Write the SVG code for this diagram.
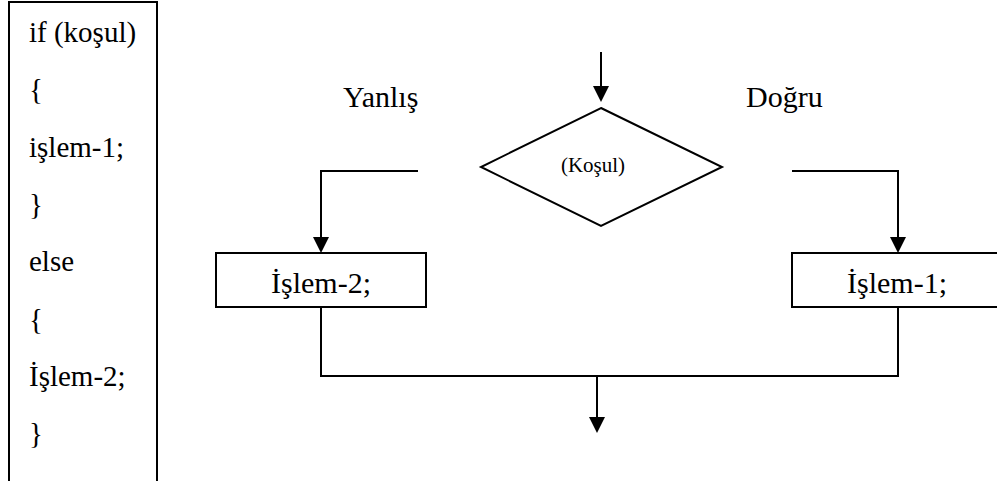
<svg xmlns="http://www.w3.org/2000/svg" width="997" height="481" viewBox="0 0 997 481">
<defs>
<style>
text{font-family:'Liberation Serif','Times New Roman','DejaVu Serif',serif;fill:#000}
.code{font-size:29px}
.lbl{font-size:30px}
.sm{font-size:21px}
.ln{fill:none;stroke:#000;stroke-width:2}
</style>
<marker id="ah" viewBox="0 0 16 16" refX="12" refY="8" markerWidth="16" markerHeight="16" markerUnits="userSpaceOnUse" orient="auto">
<path d="M0,0 L16,8 L0,16 z" fill="#000"/>
</marker>
</defs>
<rect width="997" height="481" fill="#fff"/>
<g id="code-box" font-family="Liberation Serif, serif">
<path class="ln" d="M9,490 V2 H157 V490"/>
<text class="code" x="29" y="42">if (koşul)</text>
<text class="code" x="29" y="99">{</text>
<text class="code" x="29" y="157">işlem-1;</text>
<text class="code" x="29" y="214">}</text>
<text class="code" x="29" y="271">else</text>
<text class="code" x="29" y="329">{</text>
<text class="code" x="29" y="386">İşlem-2;</text>
<text class="code" x="29" y="443">}</text>
</g>
<g id="label-yanlis">
<text class="lbl" x="343" y="107">Yanlış</text>
</g>
<g id="label-dogru">
<text class="lbl" x="746" y="107">Doğru</text>
</g>
<g id="condition">
<polygon class="ln" points="601,108 722,167 601,226 481,167"/>
<text class="sm" x="593" y="172" text-anchor="middle">(Koşul)</text>
</g>
<g id="islem2">
<rect class="ln" x="216" y="253" width="210" height="54"/>
<text class="lbl" x="321" y="293" text-anchor="middle">İşlem-2;</text>
</g>
<g id="islem1">
<rect class="ln" x="792" y="253" width="212" height="54"/>
<text class="lbl" x="897" y="293" text-anchor="middle">İşlem-1;</text>
</g>
<g id="connectors">
<path class="ln" d="M601,52 V98" marker-end="url(#ah)"/>
<path class="ln" d="M418,171 H321 V249" marker-end="url(#ah)"/>
<path class="ln" d="M792,171 H898 V249" marker-end="url(#ah)"/>
<path class="ln" d="M321,307 V376 H898 V307"/>
<path class="ln" d="M597,376 V429" marker-end="url(#ah)"/>
</g>
</svg>
